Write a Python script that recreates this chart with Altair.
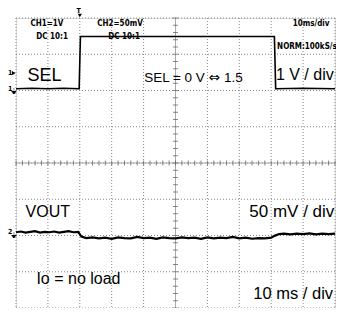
import altair as alt
import pandas as pd
import numpy as np

# --- traces (x in divisions 0..10, y in divisions 0..8 from bottom) ---
sel_t = [0, 0.5, 1.0, 1.5, 1.98, 2.0, 2.02, 5.0, 8.1, 8.12, 8.14, 9.0, 10]
sel_v = [6.05, 6.06, 6.05, 6.06, 6.05, 6.8, 7.49, 7.49, 7.49, 6.8, 6.05, 6.06, 6.05]

vout_t = [0, 0.15, 0.3, 0.45, 0.6, 0.75, 0.9, 1.05, 1.2, 1.35, 1.5, 1.65, 1.8, 1.95, 2.05,
          2.2, 2.4, 2.6, 2.8, 3.0, 3.2, 3.4, 3.6, 3.8, 4.0, 4.2, 4.4, 4.6, 4.8, 5.0,
          5.2, 5.4, 5.6, 5.8, 6.0, 6.2, 6.4, 6.6, 6.8, 7.0, 7.2, 7.4, 7.6, 7.8, 8.0,
          8.1, 8.25, 8.4, 8.6, 8.8, 9.0, 9.2, 9.4, 9.6, 9.8, 10.0]
vout_v = [2.09, 2.11, 2.08, 2.10, 2.12, 2.08, 2.10, 2.09, 2.11, 2.08, 2.10, 2.12, 2.09, 2.10, 1.97,
          1.93, 1.95, 1.92, 1.94, 1.91, 1.95, 1.93, 1.92, 1.96, 1.93, 1.94, 1.91, 1.95, 1.93, 1.92,
          1.95, 1.93, 1.94, 1.91, 1.95, 1.92, 1.94, 1.93, 1.96, 1.92, 1.94, 1.91, 1.93, 1.92, 1.94,
          1.99, 2.04, 2.05, 2.03, 2.05, 2.04, 2.06, 2.03, 2.05, 2.04, 2.05]

# --- grid ---
grid_x = list(range(11))
grid_y = list(range(9))

# --- annotation texts ---
hdr_text = ["CH1=1V", "DC  10:1", "CH2=50mV", "DC  10:1", "10ms/div", "NORM:100kS/s"]
hdr_x = [0.97, 1.13, 3.26, 3.39, 9.25, 9.12]
hdr_y = [7.84, 7.48, 7.84, 7.48, 7.84, 7.2]

left_text = ["SEL", "VOUT", "Io = no load"]
left_x = [0.36, 0.30, 0.64]
left_y = [6.39, 2.64, 0.79]
left_size = [18, 16, 16]

right_text = ["1 V / div", "50 mV / div", "10 ms / div"]
right_x = [9.96, 9.98, 9.94]
right_y = [6.42, 2.64, 0.38]
right_size = [16, 17, 16.5]

mid_text = ["SEL = 0 V", "\u21d4", "1.5"]
mid_x = [5.92, 6.21, 6.52]
mid_y = [6.34, 6.34, 6.34]
mid_align = ["right", "center", "left"]

mark_text = ["T", "1", "1", "2"]
mark_x = [1.96, -0.18, -0.18, -0.18]
mark_y = [8.19, 6.48, 6.05, 2.1]

tri_x = [2.0, -0.07]
tri_y = [8.07, 6.48]
tri_shape = ["triangle-down", "triangle-right"]

gnd_x = [-0.05, -0.05]
gnd_y = [5.96, 2.0]

ticks = np.round(np.arange(0, 10.01, 0.2), 2)
vticks = np.round(np.arange(0, 8.01, 0.2), 2)

xs = alt.Scale(domain=[0, 10], nice=False, zero=False)
ys = alt.Scale(domain=[0, 8], nice=False, zero=False)


def X(f):
    return alt.X(f, scale=xs, axis=None)


def Y(f):
    return alt.Y(f, scale=ys, axis=None)


gridv = alt.Chart(pd.DataFrame({"x": grid_x})).mark_rule(color="#888", strokeWidth=1, strokeDash=[1, 2]).encode(x=X("x:Q"))
gridh = alt.Chart(pd.DataFrame({"y": grid_y})).mark_rule(color="#888", strokeWidth=1, strokeDash=[1, 2]).encode(y=Y("y:Q"))

hline = alt.Chart(pd.DataFrame({"y": [4]})).mark_rule(color="#aaa", strokeWidth=1).encode(y=Y("y:Q"))
vline = alt.Chart(pd.DataFrame({"x": [5]})).mark_rule(color="#aaa", strokeWidth=1).encode(x=X("x:Q"))
hticks = alt.Chart(pd.DataFrame({"x": ticks, "y": 4})).mark_tick(orient="vertical", size=5, thickness=1, color="#555").encode(
    x=X("x:Q"), y=Y("y:Q"))
vticks_c = alt.Chart(pd.DataFrame({"x": 5, "y": vticks})).mark_tick(orient="horizontal", size=5, thickness=1, color="#555").encode(
    x=X("x:Q"), y=Y("y:Q"))

sel_df = pd.DataFrame({"t": sel_t, "v": sel_v})
vout_df = pd.DataFrame({"t": vout_t, "v": vout_v})
sel_line = alt.Chart(sel_df).mark_line(color="black", strokeWidth=1.6).encode(x=X("t:Q"), y=Y("v:Q"))
vout_line = alt.Chart(vout_df).mark_line(color="black", strokeWidth=2.2).encode(x=X("t:Q"), y=Y("v:Q"))

hdr = alt.Chart(pd.DataFrame({"x": hdr_x, "y": hdr_y, "s": hdr_text})).mark_text(
    font="DejaVu Sans Condensed", fontSize=8, fontWeight="bold", align="center", baseline="middle", color="black").encode(
    x=X("x:Q"), y=Y("y:Q"), text="s:N")
left = alt.Chart(pd.DataFrame({"x": left_x, "y": left_y, "s": left_text, "z": left_size})).mark_text(
    font="Liberation Sans", align="left", baseline="middle", color="black").encode(
    x=X("x:Q"), y=Y("y:Q"), text="s:N", size=alt.Size("z:Q", scale=None, legend=None))
right = alt.Chart(pd.DataFrame({"x": right_x, "y": right_y, "s": right_text, "z": right_size})).mark_text(
    font="Liberation Sans", align="right", baseline="middle", color="black").encode(
    x=X("x:Q"), y=Y("y:Q"), text="s:N", size=alt.Size("z:Q", scale=None, legend=None))

mid_layers = []
for s, x, y, a in zip(mid_text, mid_x, mid_y, mid_align):
    fnt = "DejaVu Sans" if s == "\u21d4" else "Liberation Sans"
    mid_layers.append(alt.Chart(pd.DataFrame({"x": [x], "y": [y], "s": [s]})).mark_text(
        font=fnt, fontSize=13.5, align=a, baseline="middle", color="black").encode(
        x=X("x:Q"), y=Y("y:Q"), text="s:N"))

marks = alt.Chart(pd.DataFrame({"x": mark_x, "y": mark_y, "s": mark_text})).mark_text(
    font="DejaVu Sans Condensed", fontSize=7, fontWeight="bold", align="center", baseline="middle", color="black").encode(
    x=X("x:Q"), y=Y("y:Q"), text="s:N")
tris = alt.Chart(pd.DataFrame({"x": tri_x, "y": tri_y, "sh": tri_shape})).mark_point(
    filled=True, color="black", size=18, opacity=1).encode(
    x=X("x:Q"), y=Y("y:Q"), shape=alt.Shape("sh:N", scale=None, legend=None))
gnd = alt.Chart(pd.DataFrame({"x": gnd_x, "y": gnd_y, "s": ["\u23da", "\u23da"]})).mark_text(
    font="DejaVu Sans", fontSize=8, align="center", baseline="middle", color="black").encode(
    x=X("x:Q"), y=Y("y:Q"), text="s:N")

chart = alt.layer(gridv, gridh, hline, vline, hticks, vticks_c, sel_line, vout_line,
                  hdr, left, right, *mid_layers, marks, tris, gnd).properties(
    width=319, height=290, autosize="none",
    padding={"left": 8, "top": 10, "right": 1, "bottom": 0}
).configure_view(stroke="black", strokeWidth=2.5).configure(background="white")

chart.save("out.html", embed_options={"renderer": "svg", "actions": False})
